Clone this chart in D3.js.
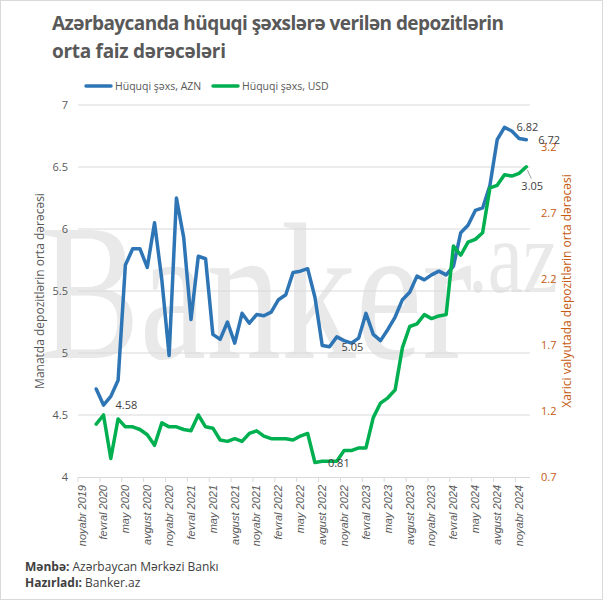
<!DOCTYPE html>
<html><head><meta charset="utf-8">
<script src="https://cdn.jsdelivr.net/npm/d3@7"></script>
<style>
body{margin:0;background:#fff;}
svg{display:block;font-family:"Open Sans","Noto Sans",sans-serif;}
</style></head>
<body><svg id="c" width="603" height="600"></svg>
<script>
const monthNames = ["yanvar","fevral","mart","aprel","may","iyun","iyul","avgust","sentyabr","oktyabr","noyabr","dekabr"];
const categories = ["noyabr 2019","dekabr 2019"];
for (let y = 2020; y <= 2024; y++) for (const m of monthNames) categories.push(m + " " + y);

const aznSeries = [null,null,4.71,4.58,4.65,4.78,5.71,5.84,5.84,5.69,6.05,5.59,4.98,6.25,5.93,5.27,5.78,5.76,5.15,5.11,5.25,5.08,5.32,5.24,5.31,5.30,5.33,5.43,5.47,5.65,5.66,5.68,5.45,5.06,5.05,5.13,5.10,5.08,5.12,5.32,5.15,5.10,5.19,5.29,5.43,5.49,5.62,5.59,5.63,5.66,5.63,5.70,5.97,6.03,6.15,6.17,6.35,6.72,6.82,6.79,6.73,6.72];
const usdSeries = [null,null,1.10,1.17,0.84,1.14,1.08,1.08,1.06,1.02,0.94,1.11,1.08,1.08,1.06,1.05,1.17,1.08,1.07,0.98,0.97,0.99,0.97,1.03,1.05,1.01,0.99,0.99,0.99,0.98,1.01,1.03,0.81,0.82,0.82,0.82,0.90,0.90,0.92,0.92,1.15,1.26,1.30,1.36,1.68,1.84,1.86,1.93,1.90,1.92,1.93,2.45,2.38,2.48,2.50,2.55,2.89,2.91,2.99,2.98,3.00,3.05];
const leftTicks = [4,4.5,5,5.5,6,6.5,7];
const rightTicks = [0.7,1.2,1.7,2.2,2.7,3.2];
const aznLabelIdx = [3,34,58,61];
const usdLabelIdx = [32,61];

const svg = d3.select("#c");
const L = 78, R = 530, T = 105, B = 477;

svg.append("rect").attr("x",0.5).attr("y",0.5).attr("width",602).attr("height",599)
  .attr("fill","#fff").attr("stroke","#d9d9d9");

// title
const title = svg.append("text").attr("fill","#595959").attr("font-weight",700).attr("font-size",19);
title.append("tspan").attr("x",52).attr("y",30).attr("textLength",452).attr("lengthAdjust","spacing")
  .text("Azərbaycanda hüquqi şəxslərə verilən depozitlərin");
title.append("tspan").attr("x",52).attr("y",58).attr("textLength",174).attr("lengthAdjust","spacing")
  .text("orta faiz dərəcələri");

// legend
const leg = [["Hüquqi şəxs, AZN","#2e75b6",86],["Hüquqi şəxs, USD","#00b050",213]];
leg.forEach(([t,c,x])=>{
  svg.append("line").attr("x1",x).attr("x2",x+25).attr("y1",86).attr("y2",86)
    .attr("stroke",c).attr("stroke-width",3.5).attr("stroke-linecap","round");
  svg.append("text").attr("x",x+29).attr("y",90).attr("font-size",10.5).attr("fill","#595959").text(t);
});

// watermark
const wm = svg.append("g").attr("fill","#e9e9e9").attr("font-family","'Liberation Serif','DejaVu Serif',serif");
wm.append("text").attr("x",40).attr("y",358).attr("font-size",195).attr("textLength",432)
  .attr("lengthAdjust","spacingAndGlyphs").text("Banker");
wm.append("text").attr("x",468).attr("y",292).attr("font-size",104).attr("textLength",90)
  .attr("lengthAdjust","spacingAndGlyphs").text(".az");

const x = d3.scaleBand().domain(categories).range([L,R]).padding(0);
const cx = c => x(c) + x.bandwidth()/2;
const yL = d3.scaleLinear().domain([4,7]).range([B,T]);
const yR = d3.scaleLinear().domain([0.7, 0.7 + (B-T)/132]).range([B,T]);

// gridlines
svg.append("g").selectAll("line").data(leftTicks.slice(1)).join("line")
  .attr("x1",L).attr("x2",R).attr("y1",d=>yL(d)).attr("y2",d=>yL(d))
  .attr("stroke","#d9d9d9").attr("stroke-width",1);

// left axis
const gL = svg.append("g").attr("transform",`translate(${L},0)`)
  .call(d3.axisLeft(yL).tickValues(leftTicks).tickSize(0).tickPadding(10).tickFormat(d3.format("")));
gL.select(".domain").remove();
gL.selectAll("text").attr("fill","#595959").attr("font-size",11).attr("font-family","'Open Sans',sans-serif");

// right axis
const gR = svg.append("g").attr("transform",`translate(${R},0)`)
  .call(d3.axisRight(yR).tickValues(rightTicks).tickSize(0).tickPadding(11).tickFormat(d3.format("")));
gR.select(".domain").remove();
gR.selectAll("text").attr("fill","#c55a11").attr("font-size",11).attr("font-family","'Open Sans',sans-serif");

// x axis
const gX = svg.append("g").attr("transform",`translate(0,${B})`)
  .call(d3.axisBottom(x).tickValues(categories.filter((d,i)=>i%3===0)).tickSize(0).tickPadding(0));
gX.select(".domain").attr("stroke","#d9d9d9").attr("d",`M${L},0.5H${R}`);
gX.selectAll("text").attr("fill","#595959").attr("font-size",11).attr("font-style","italic")
  .attr("text-anchor","end").attr("dy","0.35em")
  .attr("transform","translate(0,8) rotate(-90)");
svg.append("g").selectAll("line").data(categories.filter((d,i)=>i%3===0)).join("line")
  .attr("x1",d=>x(d)).attr("x2",d=>x(d)).attr("y1",B).attr("y2",B+5)
  .attr("stroke","#d9d9d9");

// axis titles
svg.append("text").attr("transform",`translate(44,${(T+B)/2}) rotate(-90)`).attr("text-anchor","middle")
  .attr("font-size",12).attr("fill","#595959").text("Manatda depozitlərin orta dərəcəsi");
svg.append("text").attr("transform",`translate(571,${(T+B)/2}) rotate(-90)`).attr("text-anchor","middle")
  .attr("font-size",12).attr("fill","#c55a11").text("Xarici valyutada depozitlərin orta dərəcəsi");

// lines
const lineL = d3.line().defined(d=>d.v!==null).x(d=>cx(d.c)).y(d=>yL(d.v));
const lineR = d3.line().defined(d=>d.v!==null).x(d=>cx(d.c)).y(d=>yR(d.v));
const aznData = categories.map((c,i)=>({c,v:aznSeries[i]}));
const usdData = categories.map((c,i)=>({c,v:usdSeries[i]}));
svg.append("path").datum(aznData).attr("d",lineL).attr("fill","none").attr("stroke","#2e75b6")
  .attr("stroke-width",3.5).attr("stroke-linejoin","round").attr("stroke-linecap","round");
svg.append("path").datum(usdData).attr("d",lineR).attr("fill","none").attr("stroke","#00b050")
  .attr("stroke-width",3.5).attr("stroke-linejoin","round").attr("stroke-linecap","round");

// data labels
const lab = svg.append("g").attr("font-size",11).attr("fill","#404040");
aznLabelIdx.forEach(i=>{
  lab.append("text").attr("x",cx(categories[i])+12).attr("y",yL(aznSeries[i])+4).text(aznSeries[i].toFixed(2));
});
usdLabelIdx.forEach((i,k)=>{
  const px = cx(categories[i]), py = yR(usdSeries[i]);
  if (k===usdLabelIdx.length-1){
    svg.append("line").attr("x1",px+1).attr("y1",py+3).attr("x2",px+5).attr("y2",py+12)
      .attr("stroke","#a6a6a6").attr("stroke-width",1);
    lab.append("text").attr("x",px-5).attr("y",py+23).text(usdSeries[i].toFixed(2));
  } else {
    lab.append("text").attr("x",px+13).attr("y",py+5).text(usdSeries[i].toFixed(2));
  }
});

// footer
const f = svg.append("g").attr("font-size",12).attr("fill","#404040");
const f1 = f.append("text").attr("x",25).attr("y",571);
f1.append("tspan").attr("font-weight",700).text("Mənbə: ");
f1.append("tspan").text("Azərbaycan Mərkəzi Bankı");
const f2 = f.append("text").attr("x",25).attr("y",587);
f2.append("tspan").attr("font-weight",700).text("Hazırladı: ");
f2.append("tspan").text("Banker.az");
</script></body></html>
